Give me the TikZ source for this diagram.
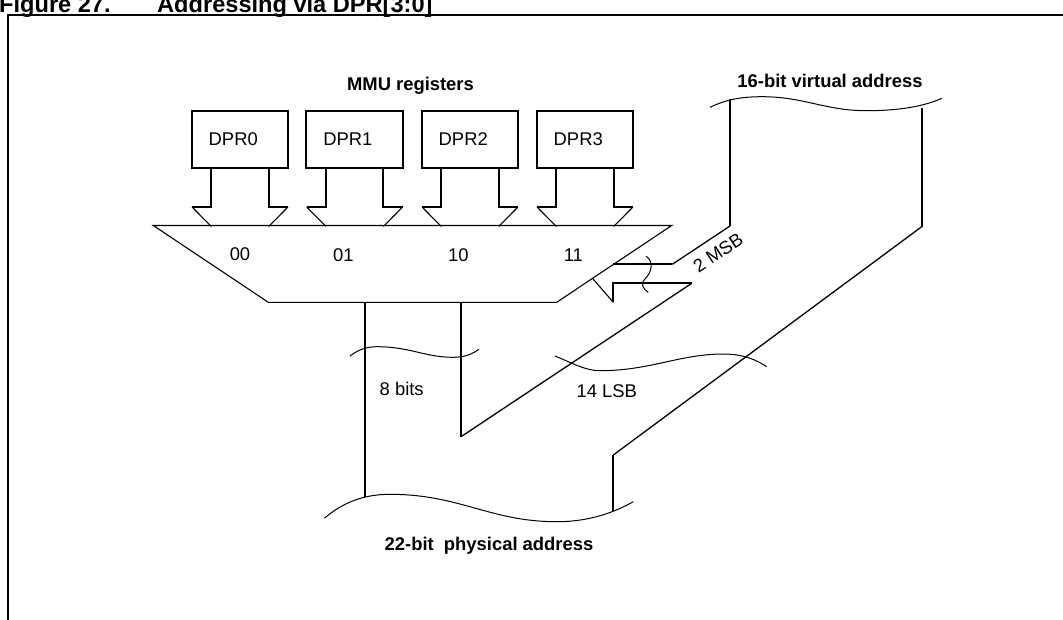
\documentclass[tikz,border=0pt]{standalone}
\usepackage{fontspec}
\setmainfont{Liberation Sans}
\usetikzlibrary{calc}
\begin{document}
\begin{tikzpicture}[x=1pt,y=-1pt,
  thick line/.style={line width=1.9pt},
  thin line/.style={line width=1.1pt},
  slant line/.style={line width=1.3pt},
  wave/.style={line width=1pt},
  lbl/.style={font=\fontsize{18.4}{20}\selectfont, inner sep=0pt, anchor=base},
  blbl/.style={font=\fontsize{18.4}{20}\selectfont\bfseries, inner sep=0pt, anchor=base},
  regbox/.style={draw, line width=1.9pt, minimum width=96.6pt, minimum height=57pt,
    text width=62.6pt, inner xsep=17pt, align=left, font=\fontsize{18.4}{20}\selectfont}]
\useasboundingbox (0,0) rectangle (1063,619);
% frame and title
\draw[line width=2.2pt] (8,630) -- (8,15) -- (1075,15);
\node[font=\fontsize{23.6}{26}\selectfont\bfseries, inner sep=0pt, anchor=base west] (fig) at (-1,12) {Figure 27.};
\node[font=\fontsize{23.6}{26}\selectfont\bfseries, inner sep=0pt, anchor=base west] (ttl) at (157,12) {Addressing via DPR[3:0]};

% registers
\node[blbl] (mmu) at (410.5,90.7) {MMU registers};
\foreach \i/\cx in {0/240,1/354.7,2/470,3/585}{
  \node[regbox] (d\i) at (\cx,139.2) {DPR\i};
  \coordinate (l\i) at ($(d\i.south)+(-28.7,0)$);
  \coordinate (r\i) at ($(d\i.south)+(28.7,0)$);
  \draw[thick line] (l\i) -- ($(l\i)+(0,38.3)$) -- ($(l\i)+(-19.3,38.3)$);
  \draw[thin line] ($(l\i)+(-19.3,38.3)$) -- ($(l\i)+(0,57.8)$);
  \draw[thick line] (r\i) -- ($(r\i)+(0,38.3)$) -- ($(r\i)+(19.3,38.3)$);
  \draw[thin line] ($(r\i)+(19.3,38.3)$) -- ($(r\i)+(0,57.8)$);
}

% multiplexer
\coordinate (mtl) at (153.3,225.5);
\coordinate (mtr) at (671.7,225.5);
\coordinate (mbr) at (556.7,302.3);
\coordinate (mbl) at (268.3,302.3);
\draw[thin line] (mtl) -- (mtr) -- (mbr) -- (mbl) -- cycle;
\node[lbl] (s00) at (240,260) {00};
\node[lbl] (s01) at (343.3,261.7) {01};
\node[lbl] (s10) at (458.3,261.7) {10};
\node[lbl] (s11) at (573.3,261.7) {11};

% virtual address
\coordinate (vl) at (730,99.3);
\coordinate (vr) at (921.7,108);
\draw[wave] (710,107.3) .. controls (725,100) and (740,96.7) .. (762,96.7)
  .. controls (804,96.7) and (825,110.7) .. (866.7,110.7)
  .. controls (900,110.7) and (925,106) .. (941.7,98.3);
\node[blbl] (va) at (830,87.3) {16-bit virtual address};

% 2 MSB arrow
\coordinate (a1) at (613.3,264.3);
\coordinate (a2) at (672.3,264.3);
\coordinate (a3) at (730,226);
\draw[thick line] (a1) -- (a2);
\draw[slant line] (a2) -- (a3);
\draw[thick line] (a3) -- (vl);
\coordinate (b1) at (613.3,302.3);
\coordinate (b2) at (613.3,283.3);
\coordinate (b3) at (691.7,283.3);
\coordinate (b4) at (461,436.7);
\coordinate (b5) at (461,302.3);
\coordinate (bh) at (592.5,278.3);
\draw[thin line] (bh) -- (b1);
\draw[thick line] (b1) -- (b2) -- (b3);
\draw[slant line] (b3) -- (b4);
\draw[thick line] (b4) -- (b5);
\draw[wave] (646,256) .. controls (654,262) and (652,272) .. (645,279)
  .. controls (640,284) and (643,289) .. (648.3,292.3);
\node[lbl, rotate=33.6] (msb) at (721.7,258) {2 MSB};

% 14 LSB path
\coordinate (c1) at (921.7,226.7);
\coordinate (c2) at (613.3,455);
\coordinate (c3) at (613.3,511);
\draw[thick line] (vr) -- (c1);
\draw[slant line] (c1) -- (c2);
\draw[thick line] (c2) -- (c3);
\draw[wave] (555,356) .. controls (570,362) and (585,370.7) .. (600,370.7)
  .. controls (650,370.7) and (680,354) .. (723.3,354)
  .. controls (745,354) and (758,361) .. (766.7,366.7);
\node[lbl] (lsb) at (606.7,397.3) {14 LSB};

% 8 bits path
\coordinate (e1) at (365,302.3);
\coordinate (e2) at (365,496.7);
\draw[thick line] (e1) -- (e2);
\draw[wave] (350,356) .. controls (358,350) and (366,346.7) .. (376.7,346.7)
  .. controls (410,346.7) and (425,357.3) .. (453.3,357.3)
  .. controls (465,357.3) and (472,354) .. (479,349.3);
\node[lbl] (bits) at (401.7,395) {8 bits};

% physical address
\draw[wave] (324.3,518.3) .. controls (340,505) and (360,494.3) .. (390,494.3)
  .. controls (460,494.3) and (490,521.7) .. (556.7,521.7)
  .. controls (590,521.7) and (615,512) .. (633.3,501.7);
\node[blbl] (pa) at (489,550.7) {22-bit\ \ physical address};
\end{tikzpicture}
\end{document}
